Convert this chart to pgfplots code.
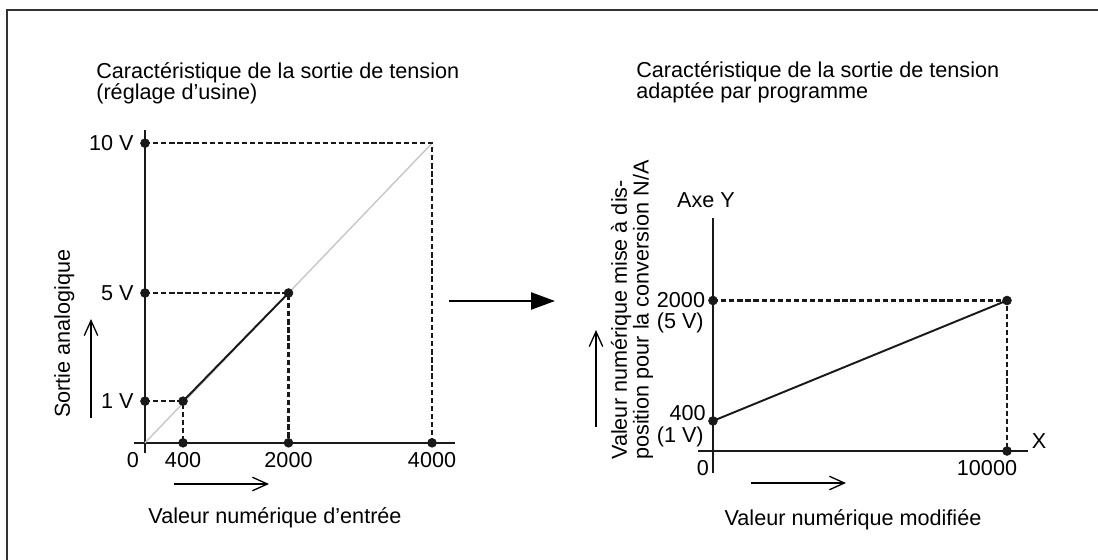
\documentclass[border=0pt]{standalone}
\usepackage{fontspec}
\setmainfont{Liberation Sans}
\usepackage{pgfplots}
\pgfplotsset{compat=1.18}
\usetikzlibrary{arrows.meta}
\begin{document}
\begin{tikzpicture}[font=\fontsize{12.3}{14}\selectfont,
    arr/.style={line width=0.75pt, -{Straight Barb[length=0.3cm, width=0.27cm]}}]
\path[use as bounding box] (0,0) rectangle (21.96,-11.2);
% frame (open at right and bottom)
\draw[line width=1.1pt, black!80] (0.14,-11.2) -- (0.14,-0.2) -- (21.96,-0.2);

\pgfplotsset{
  schema/.style={
    anchor=south west, scale only axis, clip=false,
    axis lines*=middle,
    axis line style={line width=1.1pt, black!90},
    major tick length=0pt,
    scaled ticks=false,
    /pgf/number format/assume math mode=true,
    ticklabel style={font=\fontsize{12.3}{14}\selectfont},
  },
  dash/.style={black!90, line width=1.2pt, dash pattern=on 3pt off 1.6pt},
  dots/.style={only marks, mark=*, mark size=2.5pt, black!90},
}

% ---- left: factory setting
\begin{axis}[schema,
    at={(2.68cm,-9.06cm)}, width=6.42cm, height=6.46cm,
    xmin=-153, xmax=4320, ymin=-0.34, ymax=10.44,
    xtick={530,2000,4000}, xticklabels={400,2000,4000},
    ytick={1.39,5,10}, yticklabels={1 V,5 V,10 V},
    xticklabel style={yshift=-2pt},
    yticklabel style={xshift=-3pt},
]
\addplot[black!22, line width=0.8pt] coordinates {(0,0)(4000,10)};
\addplot[dash] coordinates {(0,10)(4000,10)(4000,0)};
\addplot[dash] coordinates {(0,5)(2000,5)(2000,0)};
\addplot[dash] coordinates {(0,1.39)(530,1.39)(530,0)};
\addplot[black!90, line width=1.1pt] coordinates {(530,1.39)(2000,5)};
\addplot[dots] coordinates {(0,10)(0,5)(0,1.39)(530,1.39)(2000,5)(530,0)(2000,0)(4000,0)};
\end{axis}

% ---- right: adapted by program
\begin{axis}[schema,
    at={(13.96cm,-9.46cm)}, width=6.6cm, height=5.1cm,
    xmin=-510, xmax=10714, ymin=-292, ymax=3096,
    xtick={10000}, xticklabels={10000},
    ytick={400,2000}, yticklabels={,2000},
    xticklabel style={xshift=-0.4cm, yshift=-2pt},
    yticklabel style={xshift=-1pt},
]
\addplot[dash] coordinates {(0,2000)(10000,2000)(10000,0)};
\addplot[black!90, line width=1.1pt] coordinates {(0,400)(10000,2000)};
\addplot[dots] coordinates {(0,2000)(10000,2000)(10000,0)(0,400)};
\end{axis}

% titles
\node[anchor=base west, inner sep=0] at (1.92,-1.56) {Caractéristique de la sortie de tension};
\node[anchor=base west, inner sep=0] at (1.92,-1.98) {(réglage d’usine)};
\node[anchor=base west, inner sep=0] at (12.72,-1.54) {Caractéristique de la sortie de tension};
\node[anchor=base west, inner sep=0] at (12.72,-1.96) {adaptée par programme};

% left labels
\node[anchor=base, inner sep=0] at (2.66,-9.34) {0};
\node[rotate=90, anchor=base west, inner sep=0] at (1.40,-8.36) {Sortie analogique};
\draw[arr] (1.82,-8.36) -- (1.82,-6.38);
\draw[arr] (3.48,-9.68) -- (5.38,-9.68);
\node[anchor=base, inner sep=0] at (5.50,-10.46) {Valeur numérique d’entrée};

% middle arrow
\draw[line width=1.4pt, -{Triangle[length=0.48cm, width=0.34cm]}] (8.98,-6.02) -- (11.10,-6.02);

% right labels
\node[anchor=base, inner sep=0] at (14.12,-4.14) {Axe Y};
\node[anchor=base, inner sep=0] at (20.78,-8.96) {X};
\node[anchor=base, inner sep=0] at (14.06,-9.50) {0};
\node[anchor=base east, inner sep=0] at (14.12,-8.40) {400};
\node[anchor=base east, inner sep=0] at (14.08,-6.56) {(5 V)};
\node[anchor=base east, inner sep=0] at (14.08,-8.84) {(1 V)};
\node[rotate=90, anchor=west, align=left, inner sep=0, font=\fontsize{12.3}{12.4}\selectfont] at (12.64,-9.2)
  {Valeur numérique mise à dis-\\position pour la conversion N/A};
\draw[arr] (11.92,-8.54) -- (11.92,-6.60);
\draw[arr] (15.02,-9.66) -- (16.92,-9.66);
\node[anchor=base, inner sep=0] at (17.06,-10.50) {Valeur numérique modifiée};
\end{tikzpicture}
\end{document}
